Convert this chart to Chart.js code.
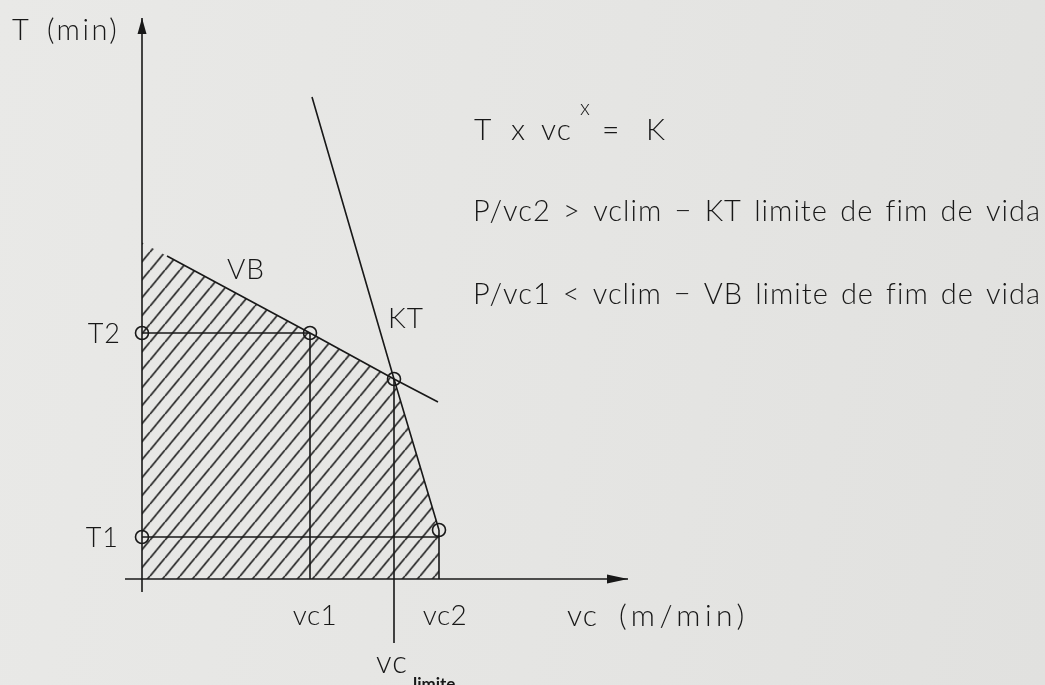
<!DOCTYPE html>
<html>
<head>
<meta charset="utf-8">
<script src="https://cdn.jsdelivr.net/npm/chart.js@4/dist/chart.umd.min.js"></script>
<style>
  html, body { margin: 0; padding: 0; background: #e5e5e3; overflow: hidden; }
  canvas { display: block; background: linear-gradient(100deg, #e9e9e7 0%, #e5e5e3 55%, #e1e1df 100%); }
</style>
</head>
<body>
<canvas id="chart" width="1045" height="685"></canvas>
<script>
// Tool life T (min) against cutting speed vc (m/min) – schematic units.
const lifeLabels  = ['T1', 'T2'];
const lifeValues  = [4.2, 24.6];
const speedLabels = ['vc1', 'vc2'];
const speedValues = [16.8, 29.7];
const vcLimite    = 25.2;     // speed where both wear criteria meet
const tAtLimite   = 20.0;     // tool life at vc limite
const tAtVc2      = 4.9;      // tool life on the KT line at vc2

// Flank wear (VB) criterion line
const vbSpeed = [2.5, 16.8, 25.2, 29.6];
const vbLife  = [32.3, 24.6, 20.0, 17.7];
// Crater wear (KT) criterion line
const ktSpeed = [17.0, 25.2, 29.7];
const ktLife  = [48.2, 20.0, 4.9];

// Axis extents (drawn lines, before the arrow heads)
const speedAxis = [-1.7, 48.6];
const lifeAxis  = [-1.3, 56.1];

const INK = '#181818';
const FONT = "Lato, 'Liberation Sans', sans-serif";
const WEIGHT = 300;

const pts = (xs, ys) => xs.map((x, i) => ({ x, y: ys[i] }));

// VB line extended back to the life axis bounds the usable region on top
const vbSlope = (vbLife[1] - vbLife[0]) / (vbSpeed[1] - vbSpeed[0]);
const vbAtAxis = vbLife[0] - vbSlope * vbSpeed[0];
const safeZone = [
  { x: 0, y: vbAtAxis },
  { x: vcLimite, y: tAtLimite },
  { x: speedValues[1], y: tAtVc2 },
  { x: speedValues[1], y: 0 }
];

function hatchPattern(spacing, stretch, color, width) {
  const c = document.createElement('canvas');
  c.width = c.height = spacing;
  const g = c.getContext('2d');
  g.strokeStyle = color;
  g.lineWidth = width;
  g.beginPath();
  for (const k of [-1, 0, 1]) {
    g.moveTo(k * spacing, spacing);
    g.lineTo(k * spacing + spacing, 0);
  }
  g.stroke();
  const p = g.createPattern(c, 'repeat');
  p.setTransform(new DOMMatrix().scale(1, stretch));
  return p;
}

const line = (data, extra) => Object.assign({
  data, showLine: true, borderColor: INK, borderWidth: 1.6,
  pointRadius: 0, fill: false, tension: 0, clip: false
}, extra || {});

const markers = [
  { x: 0, y: lifeValues[1] },
  { x: speedValues[0], y: lifeValues[1] },
  { x: vcLimite, y: tAtLimite },
  { x: speedValues[1], y: tAtVc2 },
  { x: 0, y: lifeValues[0] }
];

function setFont(ctx, size, weight, spacing) {
  ctx.font = `${weight || WEIGHT} ${size}px ${FONT}`;
  ctx.letterSpacing = (spacing || 0) + 'px';
}
function text(ctx, s, x, y, size, opts) {
  opts = opts || {};
  setFont(ctx, size, opts.weight, opts.spacing);
  ctx.textAlign = opts.align || 'left';
  ctx.fillText(s, x, y);
  ctx.textAlign = 'left';
  ctx.letterSpacing = '0px';
}
// words of one row spread evenly between x0 and x1
function row(ctx, s, x0, x1, y, size, spacing) {
  setFont(ctx, size, WEIGHT, spacing);
  const words = s.split(' ');
  const widths = words.map(w => ctx.measureText(w).width - spacing);
  const gap = (x1 - x0 - widths.reduce((a, b) => a + b, 0)) / (words.length - 1);
  let x = x0;
  words.forEach((w, i) => { ctx.fillText(w, x, y); x += widths[i] + gap; });
  ctx.letterSpacing = '0px';
}

const annotations = {
  id: 'annotations',
  afterDatasetsDraw(chart) {
    const { ctx, scales: { x, y } } = chart;
    const px = v => x.getPixelForValue(v);
    const py = v => y.getPixelForValue(v);
    ctx.save();
    ctx.fillStyle = INK;

    // arrow heads
    const ax = px(speedAxis[1]), ay = py(0);
    ctx.beginPath();
    ctx.moveTo(ax, ay); ctx.lineTo(ax - 21, ay - 4.5); ctx.lineTo(ax - 21, ay + 4.5);
    ctx.closePath(); ctx.fill();
    const bx = px(0), by = py(lifeAxis[1]);
    ctx.beginPath();
    ctx.moveTo(bx, by); ctx.lineTo(bx - 4.5, by + 16); ctx.lineTo(bx + 4.5, by + 16);
    ctx.closePath(); ctx.fill();

    ctx.textBaseline = 'alphabetic';

    // axis titles
    text(ctx, 'T', 12, 40, 29);
    text(ctx, '(min)', 47, 40, 29, { spacing: 2.5 });
    text(ctx, 'vc', 567, 626, 30, { spacing: 1 });
    text(ctx, '(m/min)', 619, 626, 30, { spacing: 4.5 });

    // life marks on the T axis
    text(ctx, lifeLabels[1], px(0) - 21, py(lifeValues[1]) + 10, 27, { align: 'right', spacing: 1 });
    text(ctx, lifeLabels[0], px(0) - 23, py(lifeValues[0]) + 10, 27, { align: 'right', spacing: 1 });

    // speed marks under the vc axis
    text(ctx, speedLabels[0], px(speedValues[0]) + 5, 625, 28, { align: 'center', spacing: 0.5 });
    text(ctx, speedLabels[1], px(speedValues[1]) + 6, 625, 28, { align: 'center', spacing: 0.5 });
    text(ctx, 'vc', px(vcLimite) - 18, 673, 31, { spacing: 1 });
    text(ctx, 'limite', px(vcLimite) + 19, 690, 17, { weight: 700 });

    // curve names
    text(ctx, 'VB', 227, 279, 28, { spacing: 1 });
    text(ctx, 'KT', 388, 328, 28, { spacing: 1 });

    // Taylor relation
    text(ctx, 'T', 474, 140, 30);
    text(ctx, 'x', 511, 140, 30);
    text(ctx, 'vc', 541, 140, 30, { spacing: 1 });
    text(ctx, 'x', 580, 115, 21);
    text(ctx, '=', 602, 140, 30);
    text(ctx, 'K', 646, 140, 30);

    // end-of-life criteria
    row(ctx, 'P/vc2 > vclim \u2212 KT limite de fim de vida', 473, 1040, 221, 29, 1);
    row(ctx, 'P/vc1 < vclim \u2212 VB limite de fim de vida', 473, 1040, 304, 29, 1);
    ctx.restore();
  }
};

new Chart(document.getElementById('chart'), {
  type: 'scatter',
  data: {
    datasets: [
      // open circles at the marked operating points
      { data: markers, showLine: false, pointRadius: 6.5, pointBorderWidth: 1.6,
        pointBorderColor: INK, pointBackgroundColor: 'rgba(0,0,0,0)', clip: false },
      // criterion lines
      line(pts(vbSpeed, vbLife)),
      line(pts(ktSpeed, ktLife)),
      // reference lines for T1, T2, vc1, vc2 and vc limite
      line([{ x: 0, y: lifeValues[1] }, { x: speedValues[0], y: lifeValues[1] }]),
      line([{ x: speedValues[0], y: lifeValues[1] }, { x: speedValues[0], y: 0 }]),
      line([{ x: 0, y: lifeValues[0] }, { x: speedValues[1], y: lifeValues[0] }]),
      line([{ x: speedValues[1], y: tAtVc2 }, { x: speedValues[1], y: 0 }]),
      line([{ x: vcLimite, y: tAtLimite }, { x: vcLimite, y: -6.4 }]),
      // axes
      line([{ x: speedAxis[0], y: 0 }, { x: speedAxis[1], y: 0 }]),
      line([{ x: 0, y: lifeAxis[0] }, { x: 0, y: lifeAxis[1] }]),
      // hatched usable region
      line(safeZone, { borderWidth: 0, fill: 'origin',
        backgroundColor: hatchPattern(15, 1.2, '#1e1e1e', 1.5) })
    ]
  },
  options: {
    responsive: false,
    animation: false,
    devicePixelRatio: 1,
    layout: { padding: 0, autoPadding: false },
    plugins: { legend: { display: false }, tooltip: { enabled: false } },
    scales: {
      x: { type: 'linear', display: false, min: -14.2, max: 90.3 },
      y: { type: 'linear', display: false, min: -10.6, max: 57.9 }
    }
  },
  plugins: [annotations]
});
</script>
</body>
</html>
